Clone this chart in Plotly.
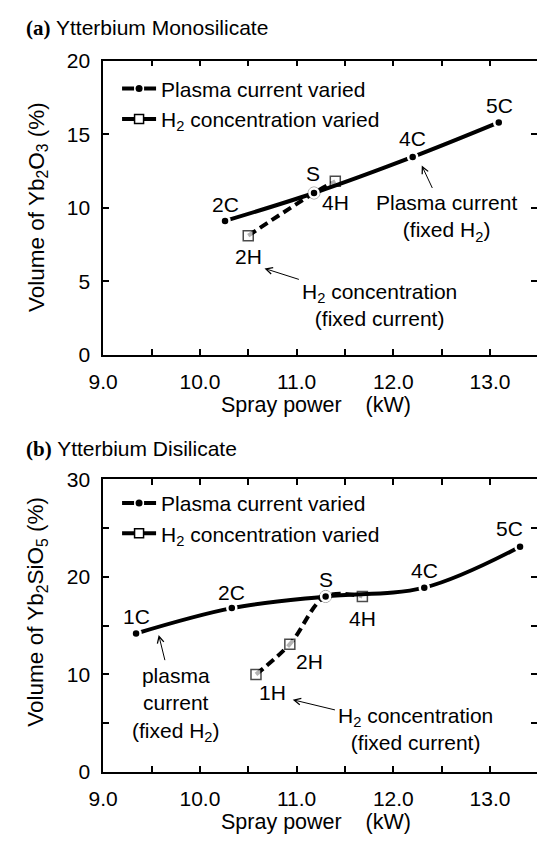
import plotly.graph_objects as go

# ---------------- data ----------------
# (a) Ytterbium Monosilicate
a_current_labels = ["2C", "S", "4C", "5C"]
a_current_power = [10.26, 11.18, 12.2, 13.09]
a_current_vol = [9.1, 11.0, 13.45, 15.8]
a_h2_labels = ["2H", "S", "4H"]
a_h2_power = [10.5, 11.18, 11.4]
a_h2_vol = [8.1, 11.0, 11.8]

# (b) Ytterbium Disilicate
b_current_labels = ["1C", "2C", "S", "4C", "5C"]
b_current_power = [9.34, 10.33, 11.3, 12.32, 13.31]
b_current_vol = [14.2, 16.8, 18.0, 18.9, 23.1]
b_h2_labels = ["1H", "2H", "S", "4H"]
b_h2_power = [10.58, 10.93, 11.3, 11.68]
b_h2_vol = [10.0, 13.1, 18.0, 18.0]

x_ticks = [9.0, 10.0, 11.0, 12.0, 13.0]

# ---------------- styling ----------------
W, H = 537, 849
FONT = "Liberation Sans, Arial, sans-serif"
FS = 21
def px(x): return x / W
def py(y): return 1 - y / H

X0 = 90.7
top_dom = [py(352.3), py(50)]
bot_dom = [py(781), py(480.5)]
x_dom = [px(X0), 1.0]
x_range = [9.0, 9.0 + (W - X0) / 99.5]

fig = go.Figure()

def add_panel(xa, ya, labels_h2, cur_x, cur_y, h2_x, h2_y):
    # H2 concentration varied (dashed, open squares; shared S point drawn as ring)
    sym = ["circle" if v == "S" else "square" for v in labels_h2]
    sz = [12 if s == "circle" else 10 for s in sym]
    lc = ["#666" if s == "circle" else "black" for s in sym]
    lw = [1 if s == "circle" else 1.5 for s in sym]
    fig.add_trace(go.Scatter(
        x=h2_x, y=h2_y, mode="lines+markers", xaxis=xa, yaxis=ya, showlegend=False,
        line=dict(color="black", width=4, dash="9px,5px", shape="spline"),
        marker=dict(symbol=sym, size=sz, color="white", line=dict(color=lc, width=lw)),
        cliponaxis=False))
    # Plasma current varied (solid, filled dots)
    fig.add_trace(go.Scatter(
        x=cur_x, y=cur_y, mode="lines+markers", xaxis=xa, yaxis=ya, showlegend=False,
        line=dict(color="black", width=4, shape="spline"),
        marker=dict(symbol="circle", size=9, color="black", line=dict(color="white", width=2.5)),
        cliponaxis=False))

add_panel("x", "y", a_h2_labels, a_current_power, a_current_vol, a_h2_power, a_h2_vol)
add_panel("x2", "y2", b_h2_labels, b_current_power, b_current_vol, b_h2_power, b_h2_vol)

# legend-only entries (as drawn in the original legend)
for leg in ("legend", "legend2"):
    xa, ya = ("x", "y") if leg == "legend" else ("x2", "y2")
    fig.add_trace(go.Scatter(
        x=[None], y=[None], mode="lines+markers", name="Plasma current varied",
        legend=leg, xaxis=xa, yaxis=ya,
        line=dict(color="black", width=4, dash="12px,10px,12px"),
        marker=dict(symbol="circle", size=7, color="black")))
    fig.add_trace(go.Scatter(
        x=[None], y=[None], mode="lines+markers", name="H<sub>2</sub> concentration varied",
        legend=leg, xaxis=xa, yaxis=ya,
        line=dict(color="black", width=4),
        marker=dict(symbol="square", size=9, color="white", line=dict(color="black", width=1.5))))

# dummy traces for right-side tick axes
fig.add_trace(go.Scatter(x=[None], y=[None], xaxis="x", yaxis="y3", showlegend=False))
fig.add_trace(go.Scatter(x=[None], y=[None], xaxis="x2", yaxis="y4", showlegend=False))

tickfont = dict(family=FONT, size=FS, color="black")
common_x = dict(range=x_range, domain=x_dom, tickvals=x_ticks, tickformat=".1f",
                ticks="inside", ticklen=6, tickwidth=1.5, tickcolor="black",
                minor=dict(dtick=0.5, tick0=9, ticks="inside", ticklen=6, tickwidth=1.5, tickcolor="black"),
                showline=True, linewidth=1.5, linecolor="black", mirror="ticks",
                showgrid=False, zeroline=False, tickfont=tickfont, ticklabelstandoff=7)
common_y = dict(ticks="inside", ticklen=6, tickwidth=1.5, tickcolor="black",
                showline=True, linewidth=1.5, linecolor="black",
                showgrid=False, zeroline=False, tickfont=tickfont, ticklabelstandoff=7)
right_y = dict(side="right", ticks="inside", ticklen=6, tickwidth=1.5, tickcolor="black",
               showline=False, showgrid=False, zeroline=False, showticklabels=False)

fig.update_layout(
    width=W, height=H, margin=dict(l=0, r=0, t=0, b=0),
    paper_bgcolor="white", plot_bgcolor="white",
    font=dict(family=FONT, size=FS, color="black"),
    xaxis=dict(anchor="y", **common_x),
    xaxis2=dict(anchor="y2", **common_x),
    yaxis=dict(anchor="x", domain=top_dom, range=[0, 20], dtick=5, **common_y),
    yaxis2=dict(anchor="x2", domain=bot_dom, range=[0, 30], dtick=10,
                minor=dict(dtick=5, ticks="inside", ticklen=6, tickwidth=1.5, tickcolor="black"),
                **common_y),
    yaxis3=dict(overlaying="y", anchor="x", range=[0, 20], dtick=5, **right_y),
    yaxis4=dict(overlaying="y2", anchor="x2", range=[0, 30], dtick=5, **right_y),
    legend=dict(x=px(105), y=py(58), xanchor="left", yanchor="top", bgcolor="rgba(0,0,0,0)",
                font=dict(family=FONT, size=FS), itemwidth=34, tracegroupgap=0),
    legend2=dict(x=px(105), y=py(484), xanchor="left", yanchor="top", bgcolor="rgba(0,0,0,0)",
                 font=dict(family=FONT, size=FS), itemwidth=34, tracegroupgap=0),
)

ann = []
def text(x, y, t, size=FS, xanchor="center", yanchor="middle", textangle=0, align="center"):
    ann.append(dict(x=x, y=y, xref="paper", yref="paper", text=t, showarrow=False,
                    xanchor=xanchor, yanchor=yanchor, textangle=textangle, align=align,
                    font=dict(family=FONT, size=size, color="black")))

# panel titles
text(px(9), py(16), "<span style='font-family:Liberation Serif'><b>(a)</b></span> Ytterbium Monosilicate",
     xanchor="left")
text(px(9), py(449), "<span style='font-family:Liberation Serif'><b>(b)</b></span> Ytterbium Disilicate",
     xanchor="left")
# axis titles
xt = "Spray power\u00a0\u00a0\u00a0 (kW)"
text(px(310), py(404), xt, size=21.5)
text(px(310), py(833), xt, size=21.5)
text(px(23), py(200), "Volume of Yb<sub>2</sub>O<sub>3</sub> (%)", size=22.5, textangle=-90)
text(px(23), py(616), "Volume of Yb<sub>2</sub>SiO<sub>5</sub> (%)", size=22.5, textangle=-90)

# point labels (pixel offsets from the point)
offs_a = {"2C": (0, -16), "S": (-1, -19), "4C": (0, -18), "5C": (1, -17), "2H": (0, 21), "4H": (0, 21)}
offs_b = {"1C": (0, -17), "2C": (0, -16), "S": (0, -17), "4C": (0, -17), "5C": (-11, -18),
          "1H": (17, 18), "2H": (20, 17), "4H": (0, 22)}
def point_labels(xa, ya, labels, xs, ys, offs, skip=()):
    for lab, xv, yv in zip(labels, xs, ys):
        if lab in skip:
            continue
        dx, dy = offs[lab]
        ann.append(dict(x=xv, y=yv, xref=xa, yref=ya, text=lab, showarrow=False,
                        xshift=dx, yshift=-dy, font=dict(family=FONT, size=FS, color="black")))
point_labels("x", "y", a_current_labels, a_current_power, a_current_vol, offs_a)
point_labels("x", "y", a_h2_labels, a_h2_power, a_h2_vol, offs_a, skip=("S",))
point_labels("x2", "y2", b_current_labels, b_current_power, b_current_vol, offs_b)
point_labels("x2", "y2", b_h2_labels, b_h2_power, b_h2_vol, offs_b, skip=("S",))

# callouts with arrows: head (x, y) and text centre (tx, ty), both in axis units
def callout(xa, ya, x, y, t, tx, ty):
    ann.append(dict(x=x, y=y, xref=xa, yref=ya, text=t, showarrow=True,
                    ax=tx, ay=ty, axref=xa, ayref=ya,
                    arrowhead=5, arrowsize=1.3, arrowwidth=1, arrowcolor="black",
                    standoff=0, startstandoff=2, align="center",
                    font=dict(family=FONT, size=FS, color="black")))
callout("x", "y", 12.294, 12.87, "Plasma current<br>(fixed H<sub>2</sub>)", 12.55, 9.28)
callout("x", "y", 10.668, 5.87, "H<sub>2</sub> concentration<br>(fixed current)", 11.86, 3.37)
callout("x2", "y2", 9.574, 14.05, "plasma<br>current<br>(fixed H<sub>2</sub>)", 9.75, 6.95)
callout("x2", "y2", 10.96, 7.40, "H<sub>2</sub> concentration<br>(fixed current)", 12.233, 4.35)

fig.update_layout(annotations=ann)
fig.write_html("out.html")
